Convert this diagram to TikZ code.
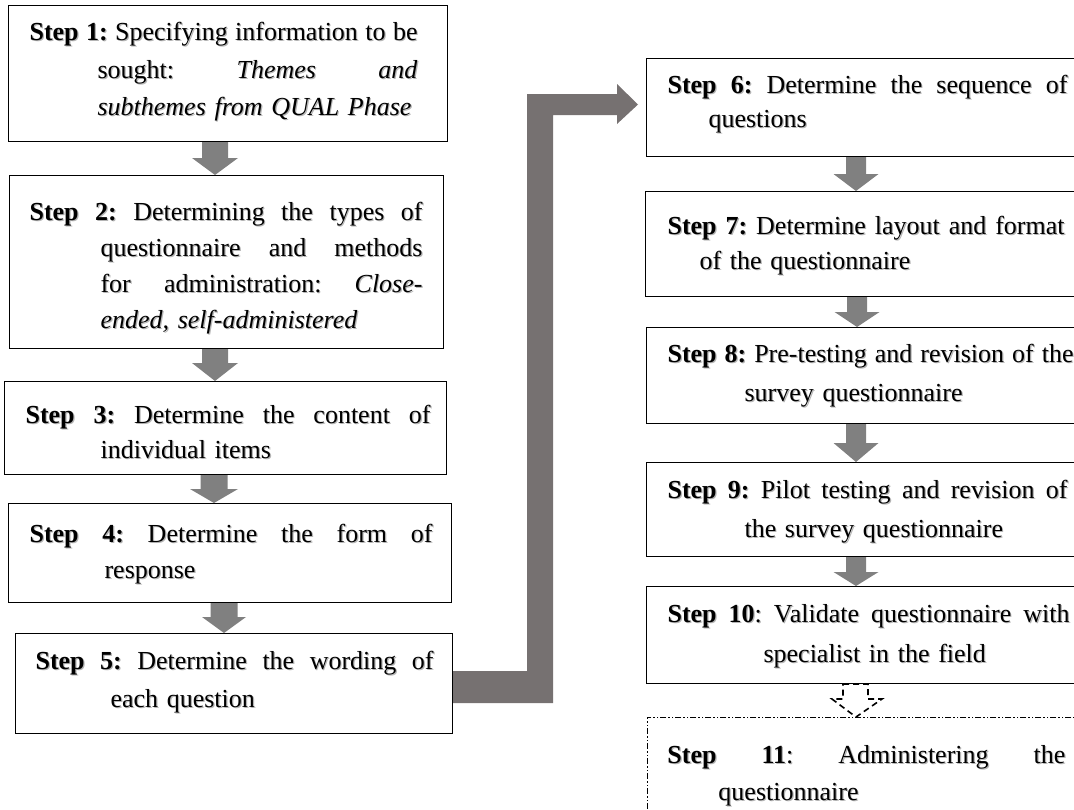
\documentclass[tikz,border=0pt]{standalone}
\usepackage{fontspec}
\setmainfont{Liberation Serif}
\usetikzlibrary{calc}

\definecolor{flowgray}{HTML}{808080}
\definecolor{linkgray}{HTML}{767171}
\definecolor{shadowgray}{HTML}{B4B4B4}

\tikzset{
  stepbox/.style={draw=black, line width=1.1pt, align=left,
    inner ysep=0pt, anchor=north west},
  lastbox/.style={stepbox, line width=0.9pt,
    dash pattern=on 6pt off 2pt on 1.5pt off 2pt on 1.5pt off 2pt},
  % text width, inner xsep, first-baseline depth from top, rest of box
  geom/.style n args={4}{text width=#1, inner xsep=#2, text height=#3, text depth=#4},
  lines/.style={font=\fontsize{26}{#1}\selectfont},
  textshadow/.style={draw=none, text=shadowgray, xshift=1.2pt, yshift=-1.2pt},
  flowfill/.style={fill=flowgray},
  linkfill/.style={fill=linkgray},
  nextstep/.style={draw=black, line width=1.6pt, dash pattern=on 6pt off 4pt, line join=miter}
}

% a justified line: the word spaces stretch (or shrink a little) to fill the width
\newcommand{\fullline}[2]{\makebox[#1][s]{\spaceskip=6.5pt plus 1fil minus 3pt\relax\xspaceskip=\spaceskip #2}}

% a step box with a soft shadow behind its text
% #1 options, #2 name, #3 north-west corner, #4 text
\newcommand{\stepnode}[4]{%
  \node[#1, textshadow] at (#3) {#4};
  \node[#1] (#2) at (#3) {#4};}

% solid block arrow from the bottom of #1 down to the top of #2
% #3 centre x, #4 half shaft width, #5 half head width, #6 head length
\newcommand{\flowdown}[6]{%
  \fill[flowfill] let \p1=(#1.south), \p2=(#2.north) in
    ({(#3-#4)*1pt},\y1) -- ({(#3+#4)*1pt},\y1) -- ({(#3+#4)*1pt},{\y2+#6pt})
    -- ({(#3+#5)*1pt},{\y2+#6pt}) -- ({#3pt},\y2) -- ({(#3-#5)*1pt},{\y2+#6pt})
    -- ({(#3-#4)*1pt},{\y2+#6pt}) -- cycle;}

\begin{document}
\begin{tikzpicture}[x=1pt, y=-1pt]
\useasboundingbox (0,0) rectangle (1074,809);
\clip (0,0) rectangle (1074,809);

% ---------- left column ----------
\stepnode{stepbox, geom={397pt}{21pt}{35pt}{101pt}, lines=37.5pt}{b1}{8,5}
  {\fullline{388pt}{\textbf{Step 1:} Specifying information to be}\\
   \hspace*{68pt}\fullline{320pt}{sought: \textit{Themes} \textit{and}}\\
   \hspace*{68pt}\textit{subthemes from QUAL Phase}}

\stepnode{stepbox, geom={394pt}{20pt}{45pt}{128pt}, lines=36pt}{b2}{9,175}
  {\fullline{393pt}{\textbf{Step 2:} Determining the types of}\\
   \hspace*{71pt}\fullline{322pt}{questionnaire and methods}\\
   \hspace*{71pt}\fullline{322pt}{for administration: \textit{Close-}}\\
   \hspace*{71pt}\textit{ended, self-administered}}

\stepnode{stepbox, geom={400pt}{21pt}{42pt}{51pt}, lines=35pt}{b3}{4,381}
  {\fullline{405pt}{\textbf{Step 3:} Determine the content of}\\
   \hspace*{75pt}individual items}

\stepnode{stepbox, geom={401pt}{21pt}{39pt}{60pt}, lines=36pt}{b4}{8,503}
  {\fullline{403pt}{\textbf{Step 4:} Determine the form of}\\
   \hspace*{75pt}response}

\stepnode{stepbox, geom={397pt}{20pt}{36pt}{64pt}, lines=38pt}{b5}{15,633}
  {\fullline{398pt}{\textbf{Step 5:} Determine the wording of}\\
   \hspace*{75pt}each question}

% ---------- right column ----------
\stepnode{stepbox, geom={402pt}{21pt}{35pt}{63pt}, lines=34pt}{b6}{646,58}
  {\fullline{400pt}{\textbf{Step 6:} Determine the sequence of}\\
   \hspace*{41pt}questions}

\stepnode{stepbox, geom={401pt}{22pt}{43pt}{62pt}, lines=35pt}{b7}{645,191}
  {\fullline{397pt}{\textbf{Step 7:} Determine layout and format}\\
   \hspace*{32pt}of the questionnaire}

\stepnode{stepbox, geom={402pt}{21pt}{35pt}{61pt}, lines=39pt}{b8}{646,327}
  {\fullline{406pt}{\textbf{Step 8:} Pre-testing and revision of the}\\
   \hspace*{77pt}survey questionnaire}

\stepnode{stepbox, geom={402pt}{21pt}{36pt}{58pt}, lines=39pt}{b9}{646,462}
  {\fullline{400pt}{\textbf{Step 9:} Pilot testing and revision of}\\
   \hspace*{77pt}the survey questionnaire}

\stepnode{stepbox, geom={402pt}{21pt}{36pt}{61pt}, lines=40pt}{b10}{646,586}
  {\fullline{402pt}{\textbf{Step 10}: Validate questionnaire with}\\
   \hspace*{96pt}specialist in the field}

\stepnode{lastbox, geom={403pt}{20pt}{46pt}{77pt}, lines=37pt}{b11}{647,717}
  {\fullline{398pt}{\textbf{Step} \textbf{11}: Administering the}\\
   \hspace*{51pt}questionnaire}

% ---------- arrows between steps ----------
\flowdown{b1}{b2}{215}{13}{23}{17}
\flowdown{b2}{b3}{215}{13}{23}{18}
\flowdown{b3}{b4}{214}{13.5}{24}{14}
\flowdown{b4}{b5}{224}{13.5}{22}{16}

\flowdown{b6}{b7}{856}{10}{22.5}{17}
\flowdown{b7}{b8}{857}{10}{22.5}{15}
\flowdown{b8}{b9}{856}{10}{22.5}{19}
\flowdown{b9}{b10}{856}{10}{22.5}{14}

% dashed outline arrow into the final step
\draw[nextstep] let \p1=(b10.south), \p2=(b11.north) in
  (843pt,\y1) -- (868pt,\y1) -- (868pt,{\y2+18pt}) -- (882pt,{\y2+18pt})
  -- (856pt,\y2) -- (832pt,{\y2+18pt}) -- (843pt,{\y2+18pt}) -- cycle;

% elbow arrow from step 5 up to step 6
\fill[linkfill] let \p1=(b5.east), \p2=(b6.west) in
  (\x1,-703pt) -- (553pt,-703pt) -- (553pt,-115pt) -- ({\x2-29pt},-115pt)
  -- ({\x2-29pt},-124pt) -- ({\x2-8pt},-104.5pt) -- ({\x2-29pt},-84pt)
  -- ({\x2-29pt},-94pt) -- (527pt,-94pt) -- (527pt,-671pt) -- (\x1,-671pt) -- cycle;
\end{tikzpicture}
\end{document}
